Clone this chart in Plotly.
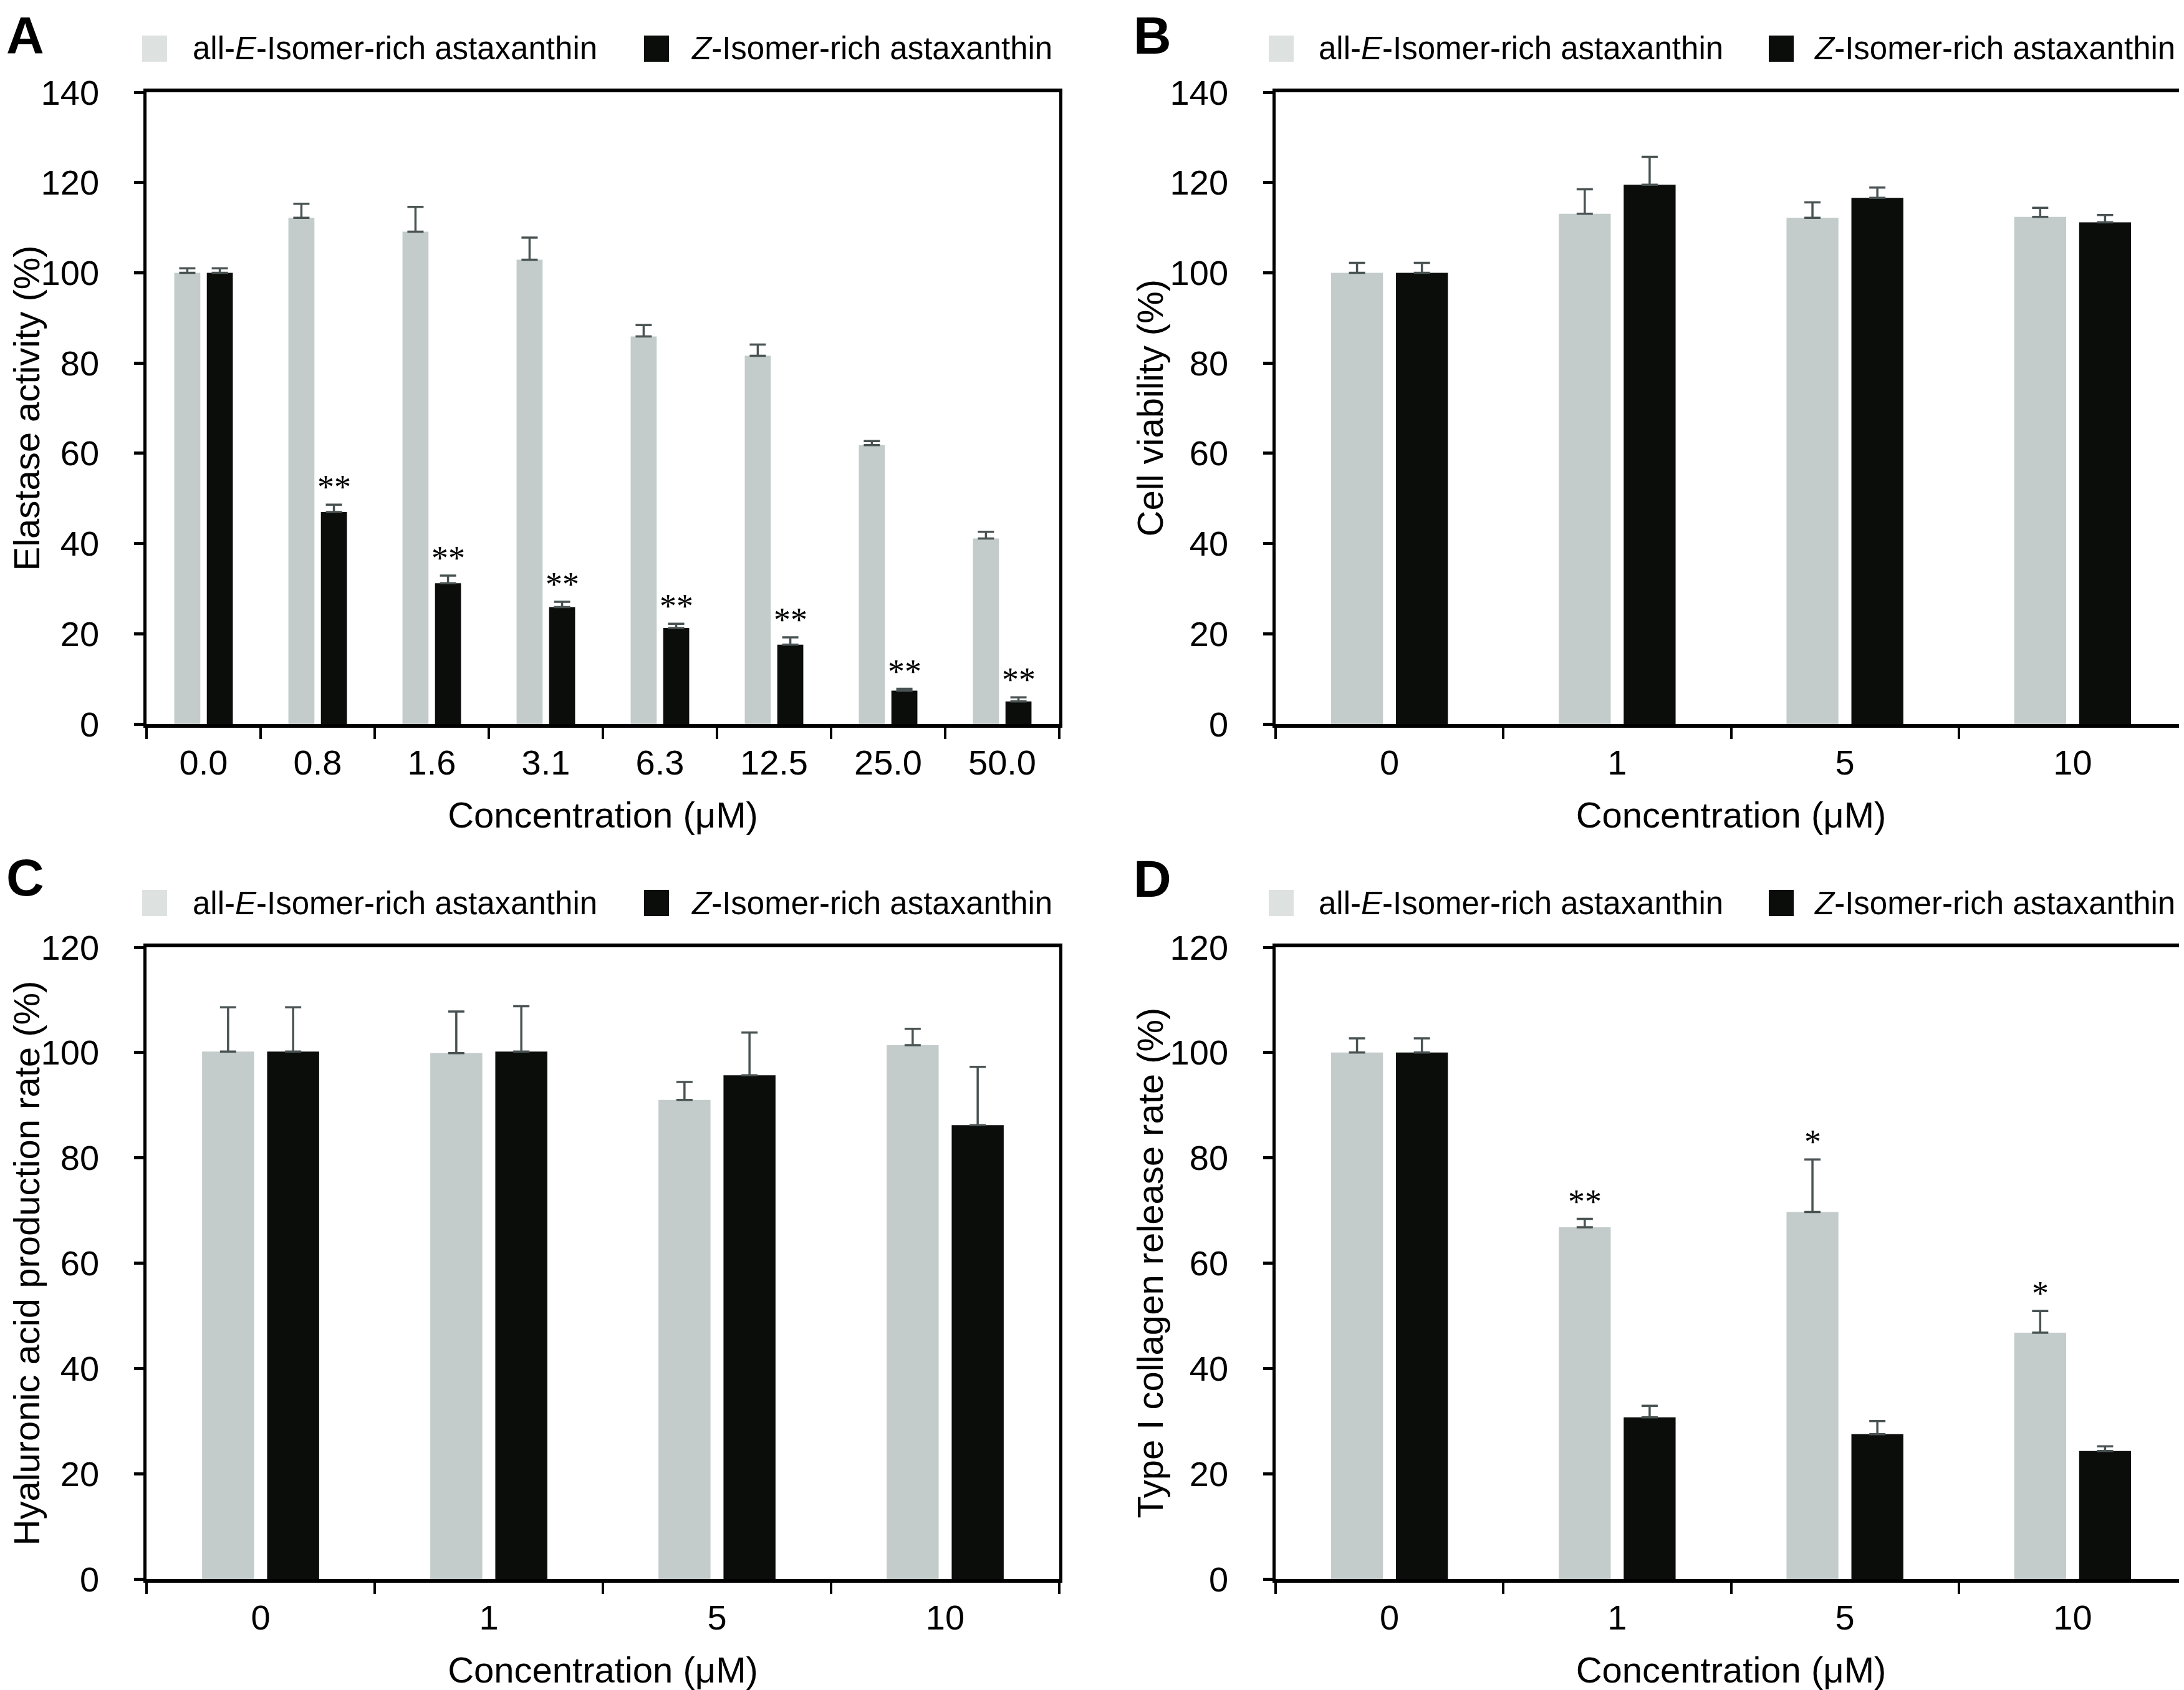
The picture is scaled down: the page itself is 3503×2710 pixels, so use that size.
import plotly.graph_objects as go

W, H = 3503, 2710

series_names = ["all-<i>E</i>-Isomer-rich astaxanthin", "<i>Z</i>-Isomer-rich astaxanthin"]

# Panel A - elastase activity
conc_a = ["0.0", "0.8", "1.6", "3.1", "6.3", "12.5", "25.0", "50.0"]
elastase_e = [100.0, 112.2, 109.1, 102.9, 85.9, 81.6, 61.8, 41.1]
elastase_e_err = [1.0, 3.1, 5.5, 4.9, 2.5, 2.5, 0.9, 1.5]
elastase_z = [100.0, 47.0, 31.2, 25.9, 21.3, 17.6, 7.4, 5.0]
elastase_z_err = [1.0, 1.6, 1.7, 1.2, 0.9, 1.6, 0.4, 0.9]
elastase_z_sig = ["", "**", "**", "**", "**", "**", "**", "**"]

# Panel B - cell viability
conc_bcd = ["0", "1", "5", "10"]
viability_e = [100.0, 113.1, 112.2, 112.4]
viability_e_err = [2.2, 5.4, 3.4, 2.0]
viability_z = [100.0, 119.5, 116.6, 111.2]
viability_z_err = [2.2, 6.2, 2.3, 1.6]

# Panel C - hyaluronic acid
hyaluronic_e = [100.2, 99.9, 91.0, 101.4]
hyaluronic_e_err = [8.4, 7.9, 3.4, 3.1]
hyaluronic_z = [100.2, 100.2, 95.7, 86.2]
hyaluronic_z_err = [8.4, 8.6, 8.1, 11.1]

# Panel D - type I collagen
collagen_e = [100.0, 66.8, 69.7, 46.8]
collagen_e_err = [2.7, 1.6, 10.0, 4.1]
collagen_e_sig = ["", "**", "*", "*"]
collagen_z = [100.0, 30.7, 27.5, 24.3]
collagen_z_err = [2.7, 2.2, 2.5, 0.9]

GRAY = "#c3cccb"
BLACK = "#0b0d0b"
ERR = "#4a5353"
FONT = "Liberation Sans"
BARGAP = 0.43

def px(x):
    return x / W

def py(y):
    return 1 - y / H

fig = go.Figure()

panels = [
    ("x", "y", conc_a, elastase_e, elastase_e_err, elastase_z, elastase_z_err),
    ("x2", "y2", conc_bcd, viability_e, viability_e_err, viability_z, viability_z_err),
    ("x3", "y3", conc_bcd, hyaluronic_e, hyaluronic_e_err, hyaluronic_z, hyaluronic_z_err),
    ("x4", "y4", conc_bcd, collagen_e, collagen_e_err, collagen_z, collagen_z_err),
]

for xa, ya, cats, e_vals, e_err, z_vals, z_err in panels:
    for vals, err, col, name in [(e_vals, e_err, GRAY, series_names[0]), (z_vals, z_err, BLACK, series_names[1])]:
        fig.add_trace(go.Bar(
            x=cats, y=vals, name=name, xaxis=xa, yaxis=ya,
            marker=dict(color=col, line=dict(width=0)),
            error_y=dict(type="data", symmetric=False, array=err, arrayminus=[0] * len(err),
                         color=ERR, thickness=3.5, width=13),
            showlegend=False,
        ))

def xaxis_style(domain, anchor):
    return dict(
        domain=domain, anchor=anchor, type="category",
        showline=True, linewidth=6, linecolor="black", mirror=True,
        ticks="outside", tickson="boundaries", ticklen=18, tickwidth=4, tickcolor="black",
        showgrid=False, zeroline=False, automargin=False,
        tickfont=dict(size=56, color="black"), ticklabelstandoff=8,
        title=dict(text="Concentration (μM)", font=dict(size=58, color="black"), standoff=35),
    )

def yaxis_style(domain, anchor, top):
    return dict(
        domain=domain, anchor=anchor, range=[0, top], dtick=20,
        showline=True, linewidth=4.5, linecolor="black", mirror=True,
        ticks="outside", ticklen=15, tickwidth=5, tickcolor="black",
        showgrid=False, zeroline=False, automargin=False,
        tickfont=dict(size=56, color="black"), ticklabelstandoff=45,
    )

left_dom = [px(227), px(1691)]
right_dom = [px(2038), px(3499)]
top_dom = [py(1153), py(140)]
bot_dom = [py(2524), py(1511)]

fig.update_layout(
    width=W, height=H, template="none",
    margin=dict(l=0, r=0, t=0, b=0),
    paper_bgcolor="white", plot_bgcolor="white",
    font=dict(family=FONT, color="black"),
    barmode="group", bargap=BARGAP, bargroupgap=0.2,
    xaxis=xaxis_style(left_dom, "y"),
    yaxis=yaxis_style(top_dom, "x", 140),
    xaxis2=xaxis_style(right_dom, "y2"),
    yaxis2=yaxis_style(top_dom, "x2", 140),
    xaxis3=xaxis_style(left_dom, "y3"),
    yaxis3=yaxis_style(bot_dom, "x3", 120),
    xaxis4=xaxis_style(right_dom, "y4"),
    yaxis4=yaxis_style(bot_dom, "x4", 120),
)

annotations = []
shapes = []

# y-axis titles (rotated annotations left of the tick labels)
for title, tx, dom in [
    ("Elastase activity (%)", 34, top_dom),
    ("Cell viability (%)", 1836, top_dom),
    ("Hyaluronic acid production rate (%)", 34, bot_dom),
    ("Type I collagen release rate (%)", 1836, bot_dom),
]:
    annotations.append(dict(x=px(tx), y=(dom[0] + dom[1]) / 2, xref="paper", yref="paper", text=title,
                            textangle=-90, showarrow=False, xanchor="center", yanchor="middle",
                            font=dict(size=58, color="black")))

# significance marks
half_slot = (1 - BARGAP) / 4
sig_font = dict(size=54, family="Liberation Serif", color="black")
for i, s in enumerate(elastase_z_sig):
    if s:
        annotations.append(dict(x=i + half_slot, y=elastase_z[i] + elastase_z_err[i], xref="x", yref="y",
                                text=s, showarrow=False, yanchor="bottom", yshift=-4, font=sig_font))
for i, s in enumerate(collagen_e_sig):
    if s:
        annotations.append(dict(x=i - half_slot, y=collagen_e[i] + collagen_e_err[i], xref="x4", yref="y4",
                                text=s, showarrow=False, yanchor="bottom", yshift=-4, font=sig_font))

# panel letters and legends
for letter, lx, ly, sw1, tx1, sw2, tx2, ley in [
    ("A", 0, 0, 220, 299, 1025, 1099, 70),
    ("B", 1808, 0, 2027, 2105, 2829, 2900, 70),
    ("C", 0, 1350, 220, 299, 1025, 1099, 1440),
    ("D", 1808, 1352, 2027, 2105, 2829, 2900, 1440),
]:
    annotations.append(dict(x=px(lx), y=py(ly), xref="paper", yref="paper", text="<b>%s</b>" % letter,
                            showarrow=False, xanchor="left", yanchor="top",
                            font=dict(size=84, color="black")))
    for sx, tx, col, name in [(sw1, tx1, "#dde2e1", series_names[0]), (sw2, tx2, BLACK, series_names[1])]:
        shapes.append(dict(type="rect", xref="paper", yref="paper",
                           x0=px(sx), x1=px(sx + 40), y0=py(ley - 21), y1=py(ley + 21),
                           fillcolor=col, line=dict(width=0)))
        annotations.append(dict(x=px(tx), y=py(ley), xref="paper", yref="paper", text=name,
                                showarrow=False, xanchor="left", yanchor="middle",
                                font=dict(size=51, color="black")))

fig.update_layout(annotations=annotations, shapes=shapes)

fig.write_html("out.html")
